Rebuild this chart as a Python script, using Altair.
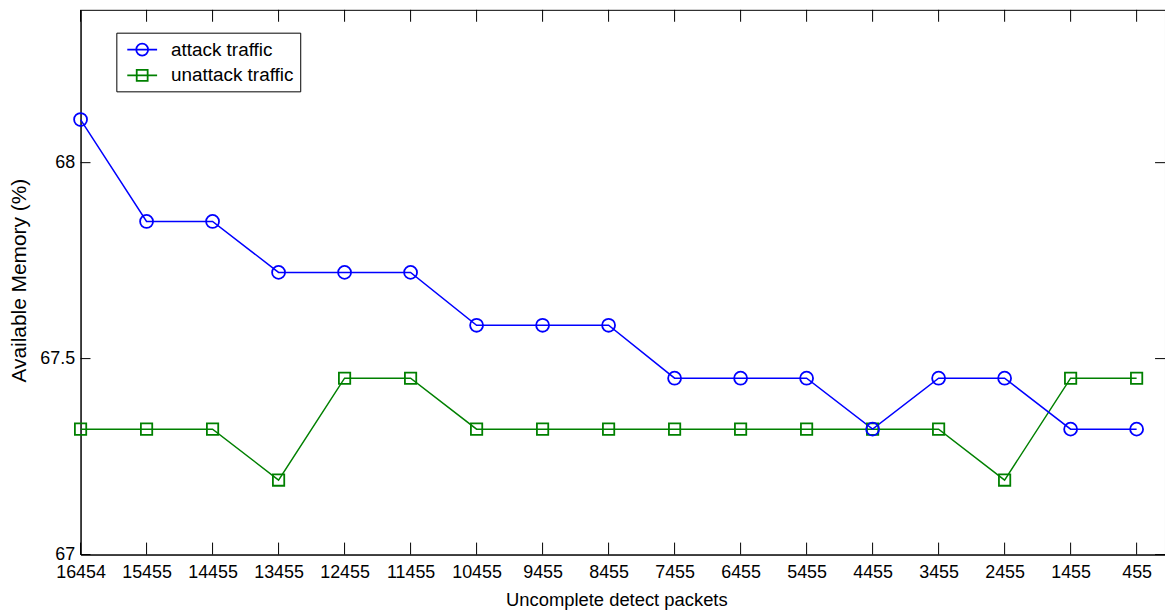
import altair as alt
import pandas as pd

packets = ["16454", "15455", "14455", "13455", "12455", "11455", "10455", "9455", "8455",
           "7455", "6455", "5455", "4455", "3455", "2455", "1455", "455"]
attack = [68.11, 67.85, 67.85, 67.72, 67.72, 67.72, 67.585, 67.585, 67.585,
          67.45, 67.45, 67.45, 67.32, 67.45, 67.45, 67.32, 67.32]
unattack = [67.32, 67.32, 67.32, 67.19, 67.45, 67.45, 67.32, 67.32, 67.32,
            67.32, 67.32, 67.32, 67.32, 67.32, 67.19, 67.45, 67.45]
series = ["attack traffic", "unattack traffic"]
colors = ["#0000ff", "#008000"]
y_ticks = [67, 67.5, 68]

FONT = "Liberation Sans"
W, H = 1091, 548

df_a = pd.DataFrame({"packets": packets, "value": attack, "series": series[0]})
df_u = pd.DataFrame({"packets": packets, "value": unattack, "series": series[1]})
df = pd.concat([df_a, df_u], ignore_index=True)
df_xt = pd.DataFrame({"packets": packets})
df_yt = pd.DataFrame({"v": y_ticks})

xscale = alt.Scale(type="point", padding=0.215, align=0)
yscale = alt.Scale(domain=[67, 68.39], nice=False, zero=False)

xenc = alt.X("packets:N", sort=packets, scale=xscale,
             axis=alt.Axis(title="Uncomplete detect packets", labelAngle=0, tickSize=0,
                           labelPadding=9, labelFontSize=18, titleFontSize=18.5,
                           titleFontWeight="normal", titleX=539, titleY=51,
                           titleBaseline="alphabetic", titleAlign="center",
                           domainColor="black", labelColor="black", titleColor="black"))
yenc = alt.Y("value:Q", scale=yscale,
             axis=alt.Axis(title="Available Memory (%)", values=y_ticks, format="~g",
                           tickSize=0, labelPadding=6, labelFontSize=18, titleFontSize=21,
                           titleFontWeight="normal", titleX=-61, titleY=272,
                           titleAngle=270, titleBaseline="middle", titleAlign="center",
                           grid=False, domainColor="black", labelColor="black",
                           titleColor="black", labelBaseline="middle"))
yenc_t = alt.Y("v:Q", scale=yscale)

base = alt.Chart(df)

line_a = alt.Chart(df_a).mark_line(color=colors[0], strokeWidth=1.5).encode(x=xenc, y=yenc)
line_u = alt.Chart(df_u).mark_line(color=colors[1], strokeWidth=1.5).encode(x=xenc, y=yenc)
pt_a = alt.Chart(df_a).mark_point(shape="circle", filled=False, color=colors[0],
                                  size=169, strokeWidth=1.8, opacity=1).encode(x=xenc, y=yenc)
pt_u = alt.Chart(df_u).mark_point(shape="square", filled=False, color=colors[1],
                                  size=130, strokeWidth=1.8, opacity=1).encode(x=xenc, y=yenc)

circ_path = "M-1.5,0L1.5,0M0.6,0A0.6,0.6,0,1,1,-0.6,0A0.6,0.6,0,1,1,0.6,0"
sq_path = "M-1.5,0L1.5,0M-0.55,-0.55L0.55,-0.55L0.55,0.55L-0.55,0.55Z"

leg = alt.Legend(title=None, orient="none", legendX=36, legendY=23, symbolSize=400,
                 symbolStrokeWidth=1.8, symbolOpacity=1, labelFontSize=19,
                 labelFont=FONT, labelColor="black", padding=6, strokeColor="black",
                 fillColor="white", rowPadding=5, labelOffset=18, symbolOffset=9,
                 cornerRadius=0)
legend_layer = base.mark_point(filled=False, opacity=0).encode(
    x=xenc, y=yenc,
    color=alt.Color("series:N", scale=alt.Scale(domain=series, range=colors), legend=leg),
    shape=alt.Shape("series:N", scale=alt.Scale(domain=series, range=[circ_path, sq_path]),
                    legend=leg),
)

xt_bottom = alt.Chart(df_xt).mark_rule(color="black", strokeWidth=1).encode(
    x=xenc, y=alt.value(H), y2=alt.value(H - 12))
xt_top = alt.Chart(df_xt).mark_rule(color="black", strokeWidth=1).encode(
    x=xenc, y=alt.value(0), y2=alt.value(12))
yt_left = alt.Chart(df_yt).mark_rule(color="black", strokeWidth=1).encode(
    y=yenc_t, x=alt.value(0), x2=alt.value(10))
yt_right = alt.Chart(df_yt).mark_rule(color="black", strokeWidth=1).encode(
    y=yenc_t, x=alt.value(W - 10), x2=alt.value(W))

chart = alt.layer(xt_bottom, xt_top, yt_left, yt_right, line_u, line_a, pt_u, pt_a,
                  legend_layer).properties(
    width=W, height=H,
    autosize=alt.AutoSizeParams(type="none"),
    padding={"left": 73, "top": 0, "right": 0, "bottom": 60},
    background="white",
).configure(font=FONT).configure_view(stroke="black", strokeWidth=1)

chart.save("out.html", embed_options={"renderer": "svg", "actions": False})
